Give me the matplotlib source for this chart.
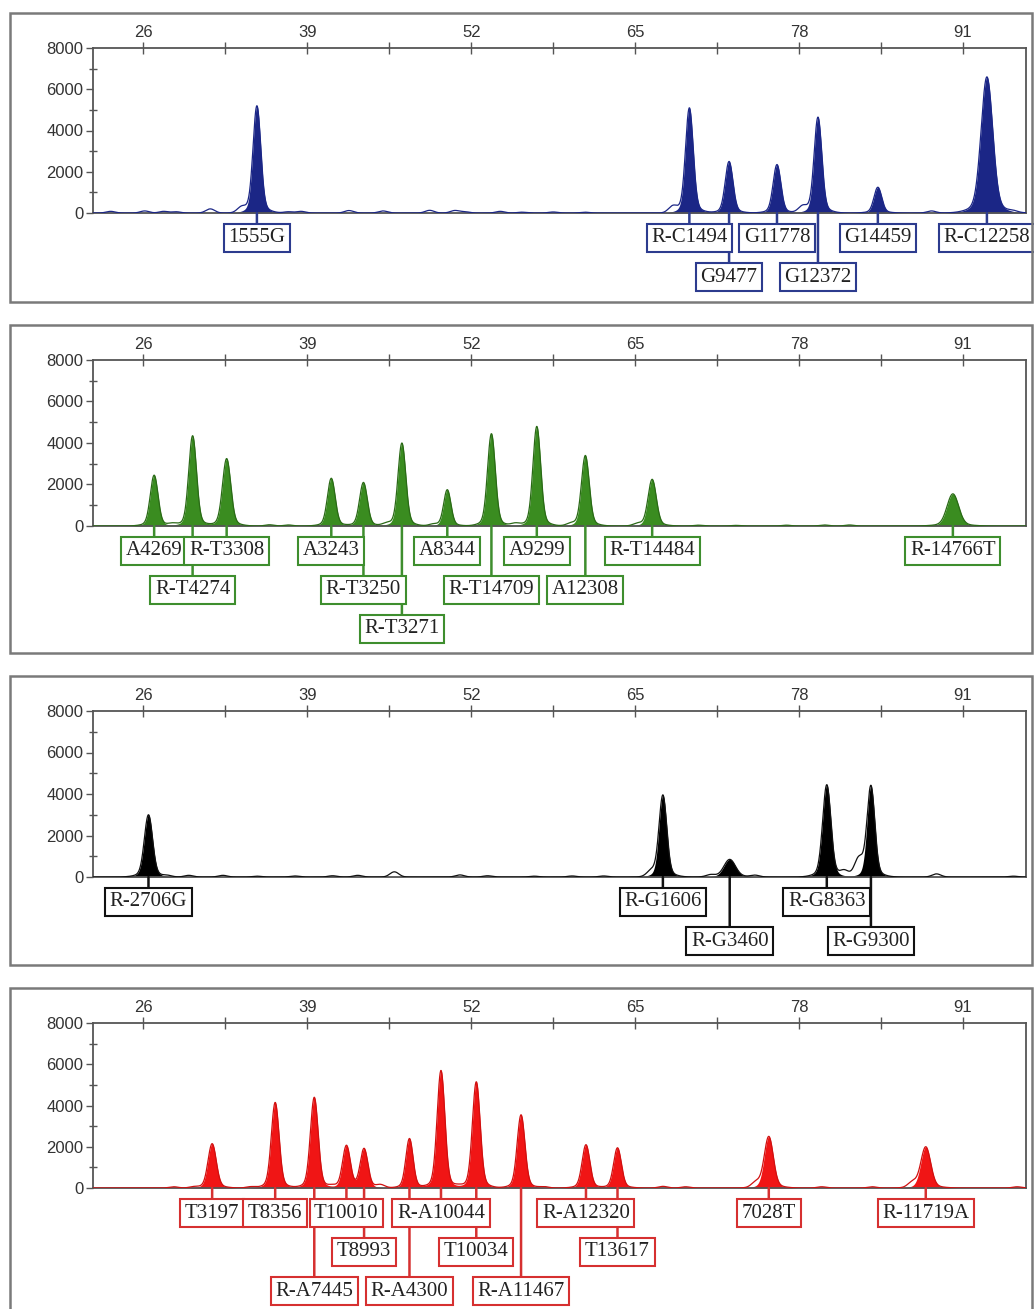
import numpy as np
import matplotlib
matplotlib.use('Agg')
import matplotlib.pyplot as plt
from matplotlib.patches import Rectangle

# ---- panel 1 (blue) ----
blue_pos = [35.0, 69.3, 72.45, 76.25, 79.5, 84.25, 92.9]
blue_height = [5200, 5100, 2500, 2350, 4650, 1250, 6600]
blue_width = [0.3, 0.3, 0.3, 0.3, 0.3, 0.3, 0.45]
blue_labels = ['1555G', 'R-C1494', 'G9477', 'G11778', 'G12372', 'G14459', 'R-C12258']
blue_rows = [0, 0, 1, 0, 1, 0, 0]
blue_noise_pos = [23.4, 26.1, 27.6, 28.6, 31.3, 33.8, 37.5, 38.5, 42.3, 45.0,
                  48.7, 50.7, 51.5, 54.3, 56.0, 58.5, 61.0, 68.0, 78.3, 88.5, 95.0]
blue_noise_height = [80, 100, 80, 60, 200, 250, 60, 80, 120, 100,
                     130, 120, 60, 80, 40, 50, 40, 300, 300, 100, 60]

# ---- panel 2 (green) ----
green_pos = [26.85, 29.9, 32.6, 40.9, 43.45, 46.5, 50.1, 53.6, 57.2, 61.05, 66.35, 90.2]
green_height = [2450, 4350, 3250, 2300, 2100, 4000, 1750, 4450, 4800, 3400, 2250, 1550]
green_width = [0.3, 0.3, 0.32, 0.3, 0.3, 0.3, 0.28, 0.3, 0.3, 0.3, 0.32, 0.45]
green_labels = ['A4269', 'R-T4274', 'R-T3308', 'A3243', 'R-T3250', 'R-T3271',
                'A8344', 'R-T14709', 'A9299', 'A12308', 'R-T14484', 'R-14766T']
green_rows = [0, 1, 0, 0, 1, 2, 0, 1, 0, 1, 0, 0]
green_noise_pos = [28.3, 36.0, 37.5, 45.3, 49.0, 55.5, 59.9, 65.2, 70.0, 73.0, 77.0, 80.0, 82.0]
green_noise_height = [100, 60, 50, 100, 80, 120, 100, 100, 40, 30, 40, 50, 50]

# ---- panel 3 (black) ----
black_pos = [26.4, 67.2, 72.5, 80.2, 83.7]
black_height = [3000, 3950, 850, 4450, 4400]
black_width = [0.32, 0.3, 0.45, 0.32, 0.3]
black_labels = ['R-2706G', 'R-G1606', 'R-G3460', 'R-G8363', 'R-G9300']
black_rows = [0, 0, 1, 0, 1]
black_noise_pos = [27.9, 29.6, 32.3, 35.0, 38.0, 41.0, 43.0, 45.9, 51.1, 53.3,
                   57.0, 60.0, 62.5, 66.3, 71.0, 74.5, 81.6, 82.75, 88.9, 95.0]
black_noise_height = [60, 80, 80, 40, 50, 60, 80, 250, 100, 60,
                      40, 50, 50, 250, 100, 80, 280, 850, 150, 40]

# ---- panel 4 (red) ----
red_pos = [31.45, 36.45, 39.55, 42.1, 43.5, 47.1, 49.6, 52.4, 55.95, 61.1, 63.6, 75.6, 88.05]
red_height = [2150, 4150, 4400, 2050, 1900, 2400, 5700, 5150, 3550, 2100, 1950, 2500, 2000]
red_width = [0.32, 0.3, 0.3, 0.3, 0.3, 0.28, 0.3, 0.3, 0.3, 0.3, 0.3, 0.35, 0.38]
red_labels = ['T3197', 'T8356', 'R-A7445', 'T10010', 'T8993', 'R-A4300', 'R-A10044',
              'T10034', 'R-A11467', 'R-A12320', 'T13617', '7028T', 'R-11719A']
red_rows = [0, 0, 2, 0, 1, 2, 0, 1, 2, 0, 1, 0, 0]
red_noise_pos = [28.4, 30.0, 34.5, 41.0, 44.8, 51.0, 57.8, 67.2, 69.0, 74.6, 79.8, 83.8, 87.0, 95.3]
red_noise_height = [60, 50, 60, 80, 150, 60, 60, 80, 60, 250, 60, 60, 250, 60]

x_major = [26, 39, 52, 65, 78, 91]
x_minor = [32.5, 45.5, 58.5, 71.5, 84.5]

W, H = 1034, 1309
fig = plt.figure(figsize=(W / 100, H / 100), dpi=100)

# (frame top, frame bottom, axes top, axes bottom) in pixels
layout = [(13, 302, 48, 213), (325, 653, 360, 526), (676, 965, 711, 877), (988, 1320, 1023, 1188)]

panels = [
    (blue_pos, blue_height, blue_width, blue_labels, blue_rows, blue_noise_pos, blue_noise_height,
     '#1b2686', '#1b2686', '#2c3b8e'),
    (green_pos, green_height, green_width, green_labels, green_rows, green_noise_pos, green_noise_height,
     '#3a8c20', '#2a6a16', '#3e8e2e'),
    (black_pos, black_height, black_width, black_labels, black_rows, black_noise_pos, black_noise_height,
     '#000000', '#111111', '#111111'),
    (red_pos, red_height, red_width, red_labels, red_rows, red_noise_pos, red_noise_height,
     '#f01515', '#d01010', '#d63030'),
]

x = np.linspace(22, 96, 4000)


def peak_sum(pos, height, width, foot=0.07):
    y = np.zeros_like(x)
    for p, h, w in zip(pos, height, width):
        y += h * ((1 - foot) * np.exp(-0.5 * ((x - p) / w) ** 2)
                  + foot * np.exp(-0.5 * ((x - p) / (2.5 * w)) ** 2))
    return y


for (ft, fb, at, ab), (pos, hts, wid, labs, rows, npos, nh, fill_c, line_c, box_c) in zip(layout, panels):
    # panel frame
    fig.patches.append(Rectangle((10 / W, 1 - fb / H), (1032 - 10) / W, (fb - ft) / H,
                                 transform=fig.transFigure, fill=False, ec='#7a7a7a', lw=1.8))
    ax = fig.add_axes([93 / W, 1 - ab / H, (1026 - 93) / W, (ab - at) / H])

    main = peak_sum(pos, hts, wid)
    noise = peak_sum(npos, nh, [0.35] * len(npos), foot=0.0)
    ax.fill_between(x, 0, main, color=fill_c, lw=0, zorder=2)
    ax.plot(x, main + noise, color=line_c, lw=0.9, zorder=3)

    ax.set_xlim(22, 96)
    ax.set_ylim(0, 8000)
    ax.xaxis.tick_top()
    ax.set_xticks(x_major)
    ax.set_xticks(x_minor, minor=True)
    ax.set_yticks([0, 2000, 4000, 6000, 8000])
    ax.set_yticks([1000, 3000, 5000, 7000], minor=True)
    ax.tick_params(axis='x', which='both', direction='inout', length=8, width=1, color='#555555',
                   labelsize=12, labelcolor='#333333', pad=2)
    ax.tick_params(axis='y', which='major', direction='out', length=5, width=1, color='#555555',
                   labelsize=12, labelcolor='#333333', pad=2)
    ax.tick_params(axis='y', which='minor', direction='inout', length=6, width=1, color='#555555')
    for lab in ax.get_xticklabels() + ax.get_yticklabels():
        lab.set_family('Liberation Sans')
    for s in ax.spines.values():
        s.set_color('#555555')
        s.set_linewidth(1.3)

    # peak labels with connector lines
    for p, lab, r in zip(pos, labs, rows):
        offset = (25 + 39 * r) * 0.72
        ax.annotate(lab, xy=(p, 0), xytext=(0, -offset), textcoords='offset points',
                    ha='center', va='center', fontsize=15, family='Liberation Serif',
                    color='#222222', annotation_clip=False, zorder=10 - r,
                    bbox=dict(boxstyle='square,pad=0.22', fc='white', ec=box_c, lw=1.5),
                    arrowprops=dict(arrowstyle='-', color=box_c, lw=1.8, shrinkA=0, shrinkB=0))

fig.savefig('out.png', dpi=100)
